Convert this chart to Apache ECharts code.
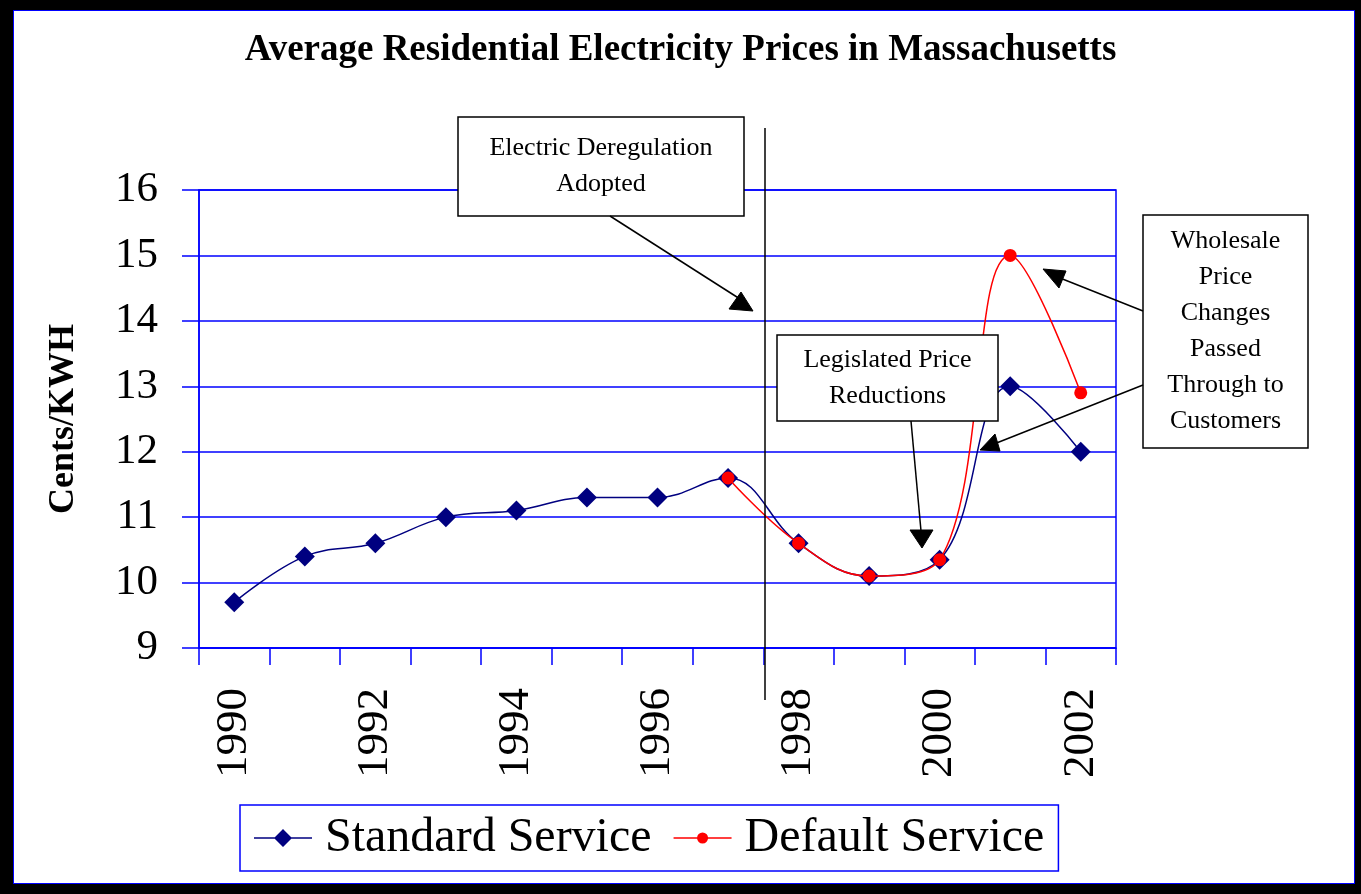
<!DOCTYPE html>
<html>
<head>
<meta charset="utf-8">
<script src="https://cdn.jsdelivr.net/npm/echarts@6/dist/echarts.min.js"></script>
<style>
  html, body { margin:0; padding:0; width:1361px; height:894px; background:#000; overflow:hidden; }
  #frame { position:absolute; left:13px; top:10px; width:1340px; height:872px; border:1px solid #0000ff; background:#fff; }
  #chart { position:absolute; left:0; top:0; width:1361px; height:894px; }
</style>
</head>
<body>
<div id="frame"></div>
<div id="chart"></div>
<script>
const years = ['1990','1991','1992','1993','1994','1995','1996','1997','1998','1999','2000','2001','2002'];
const standardService = [9.7, 10.4, 10.6, 11.0, 11.1, 11.3, 11.3, 11.6, 10.6, 10.1, 10.35, 13.0, 12.0];
const defaultService = [null, null, null, null, null, null, null, 11.6, 10.6, 10.1, 10.35, 15.0, 12.9];
const yTicks = { min: 9, max: 16, interval: 1 };

const serif = "'Liberation Serif', 'DejaVu Serif', serif";
const blue = '#0000ff';

const chart = echarts.init(document.getElementById('chart'), null, { renderer: 'canvas' });

function box(x, y, w, h, text, lh) {
  return [
    { type: 'rect', z: 100, shape: { x: x, y: y, width: w, height: h },
      style: { fill: '#fff', stroke: '#000', lineWidth: 1.5 } },
    { type: 'text', z: 101, x: x + w / 2, y: y + h / 2,
      style: { text: text, font: '26px ' + serif, fill: '#000', textAlign: 'center', textVerticalAlign: 'middle', lineHeight: lh } }
  ];
}
function line(x1, y1, x2, y2) {
  return { type: 'line', z: 100, shape: { x1: x1, y1: y1, x2: x2, y2: y2 }, style: { stroke: '#000', lineWidth: 1.5 } };
}
function tri(pts) {
  return { type: 'polygon', z: 100, shape: { points: pts }, style: { fill: '#000', stroke: '#000', lineWidth: 1 } };
}

const iconStandard = 'path://M0 9.3 L58 9.3 L58 10.7 L0 10.7 Z M29 1 L38 10 L29 19 L20 10 Z';
const iconDefault = 'path://M0 0 L0.01 0 L0 0.01 Z M58 20 L57.99 20 L58 19.99 Z M0 9.3 L58 9.3 L58 10.7 L0 10.7 Z M34.5 10 A5.5 5.5 0 1 1 23.5 10 A5.5 5.5 0 1 1 34.5 10 Z';

const option = {
  animation: false,
  title: {
    text: 'Average Residential Electricity Prices in Massachusetts',
    left: 'center', top: 27,
    textStyle: { fontFamily: serif, fontWeight: 'bold', fontSize: 37, color: '#000' }
  },
  grid: { left: 199, top: 190, right: 245, bottom: 246, show: true, borderColor: blue, borderWidth: 1.5, backgroundColor: 'transparent' },
  legend: {
    left: 240, top: 805,
    borderColor: blue, borderWidth: 1.5,
    padding: [9, 14, 9, 14],
    itemWidth: 58, itemHeight: 20, itemGap: 22,
    textStyle: { fontFamily: serif, fontSize: 48, color: '#000', padding: [0, 0, 0, 8] },
    data: [
      { name: 'Standard Service', icon: iconStandard },
      { name: 'Default Service', icon: iconDefault }
    ]
  },
  xAxis: {
    type: 'category', data: years, boundaryGap: true,
    axisLine: { show: true, lineStyle: { color: blue, width: 1.5 } },
    axisTick: { show: true, interval: 0, length: 17, lineStyle: { color: blue, width: 1.5 } },
    axisLabel: { interval: 1, rotate: 90, margin: 40, fontFamily: serif, fontSize: 45, color: '#000' },
    splitLine: { show: false }
  },
  yAxis: {
    type: 'value', min: yTicks.min, max: yTicks.max, interval: yTicks.interval,
    name: 'Cents/KWH', nameLocation: 'middle', nameGap: 117,
    nameTextStyle: { fontFamily: serif, fontWeight: 'bold', fontSize: 36, color: '#000' },
    axisLine: { show: true, lineStyle: { color: blue, width: 1.5 } },
    axisTick: { show: true, length: 17, lineStyle: { color: blue, width: 1.5 } },
    axisLabel: { margin: 41, fontFamily: serif, fontSize: 43, color: '#000' },
    splitLine: { show: true, lineStyle: { color: blue, width: 1.5 } }
  },
  series: [
    {
      name: 'Standard Service', type: 'line', data: standardService, smooth: 0.4,
      symbol: 'diamond', symbolSize: 20,
      lineStyle: { color: '#000080', width: 1.5 },
      itemStyle: { color: '#000080' }, z: 3
    },
    {
      name: 'Default Service', type: 'line', data: defaultService, smooth: 0.4,
      symbol: 'circle', symbolSize: 13,
      lineStyle: { color: '#ff0000', width: 1.5 },
      itemStyle: { color: '#ff0000' }, z: 4
    }
  ],
  graphic: [].concat(
    [line(765, 128, 765, 700)],
    box(458, 117, 286, 99, 'Electric Deregulation\nAdopted', 36),
    [line(610, 216, 740, 299), tri([[741, 292], [729, 309], [753, 311]])],
    box(777, 335, 221, 86, 'Legislated Price\nReductions', 36),
    [line(911, 421, 921, 531), tri([[910, 530], [933, 530], [922, 548]])],
    box(1143, 215, 165, 233, 'Wholesale\nPrice\nChanges\nPassed\nThrough to\nCustomers', 36),
    [line(1143, 311, 1060, 278), tri([[1043, 269], [1066, 271], [1059, 288]])],
    [line(1143, 385, 994, 444), tri([[980, 450], [1000, 451], [995, 434]])]
  )
};
chart.setOption(option);
</script>
</body>
</html>
